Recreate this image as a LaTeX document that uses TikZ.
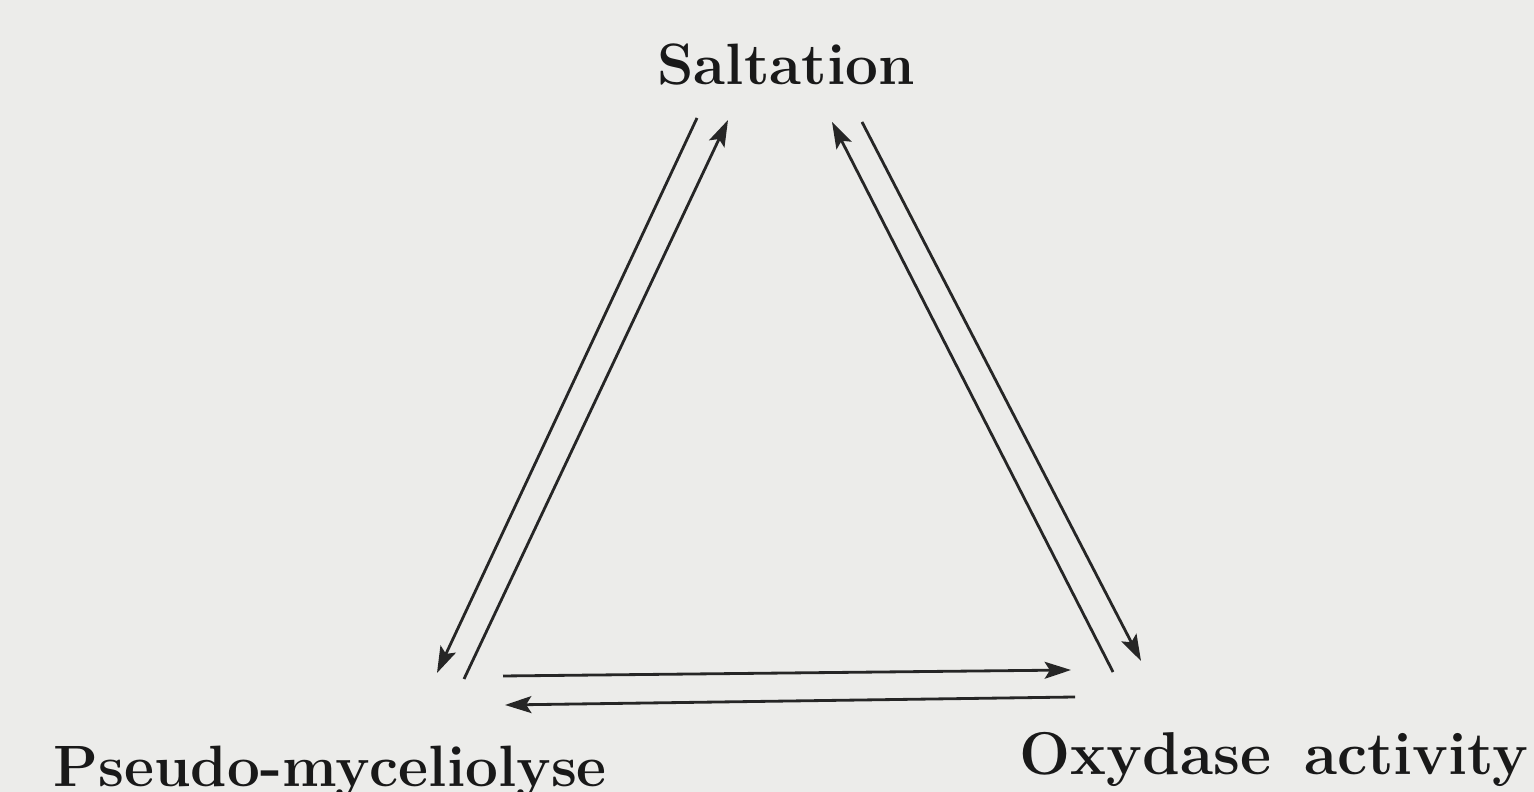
\documentclass[tikz,border=0pt]{standalone}
\usepackage{tikz}
\usetikzlibrary{arrows.meta}
\definecolor{PapelGris}{RGB}{236,236,234}
\tikzset{
  label/.style={font=\fontsize{16.6}{20}\selectfont\bfseries,inner sep=0pt,text=black!90},
  flecha/.style={-{Stealth[length=7.5pt,width=4.8pt,inset=1.5pt]},line width=0.8pt,black!85}
}

\begin{document}
\begin{tikzpicture}[x=1cm,y=1cm]
  \fill[PapelGris] (0,0) rectangle (15.34,7.92);
  \useasboundingbox (0,0) rectangle (15.34,7.92);

  \node[label,anchor=base] (salt) at (7.86,7.07) {Saltation};
  \node[label,anchor=base west] (pseudo) at (0.53,0.05) {Pseudo-myceliolyse};
  \node[label,anchor=base west,font=\fontsize{17.2}{20}\selectfont\bfseries] (oxy) at (10.19,0.17) {Oxydase\ \,activity};

  % ends of the arrows
  \coordinate (sA) at (6.97,6.74);  \coordinate (pA) at (4.37,1.19);
  \coordinate (pB) at (4.64,1.13);  \coordinate (sB) at (7.28,6.72);
  \coordinate (oC) at (11.13,1.20); \coordinate (sC) at (8.32,6.70);
  \coordinate (sD) at (8.62,6.70);  \coordinate (oD) at (11.41,1.31);
  \coordinate (pE) at (5.03,1.16);  \coordinate (oE) at (10.71,1.22);
  \coordinate (oF) at (10.75,0.95); \coordinate (pF) at (5.05,0.87);

  \draw[flecha] (sA) -- (pA);
  \draw[flecha] (pB) -- (sB);
  \draw[flecha] (oC) -- (sC);
  \draw[flecha] (sD) -- (oD);
  \draw[flecha] (pE) -- (oE);
  \draw[flecha] (oF) -- (pF);
\end{tikzpicture}
\end{document}
